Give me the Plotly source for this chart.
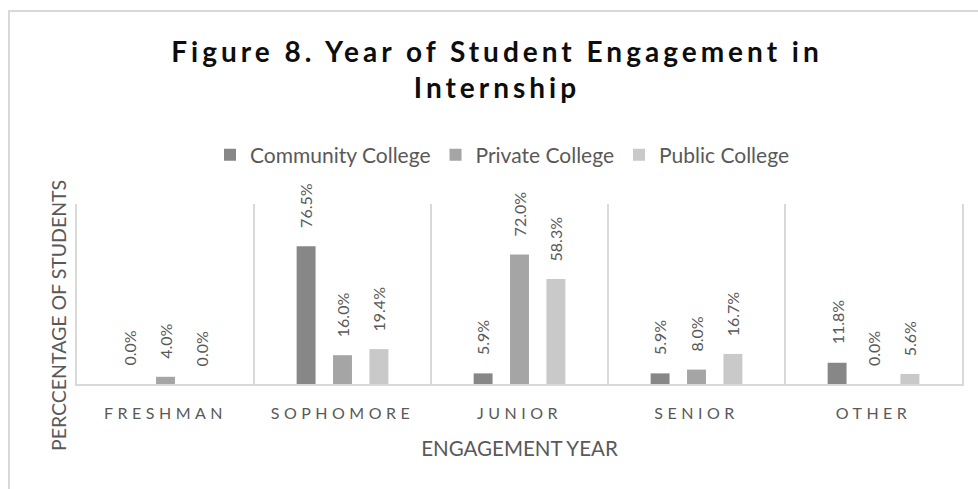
import plotly.graph_objects as go

# Year in which students took part in an internship, by college type (share of students)
categories = ["FRESHMAN", "SOPHOMORE", "JUNIOR", "SENIOR", "OTHER"]
series_names = ["Community College", "Private College", "Public College"]
community = [0.000, 0.765, 0.059, 0.059, 0.118]
private = [0.040, 0.160, 0.720, 0.080, 0.000]
public = [0.000, 0.194, 0.583, 0.167, 0.056]

series_values = [community, private, public]
series_colors = ["#878787", "#a5a5a5", "#c9c9c9"]

FONT = "Lato, 'Open Sans', sans-serif"
TEXT_GRAY = "#595959"
LINE_GRAY = "#d9d9d9"

# plot-area geometry (pixels)
L, R, T, B = 77, 16, 204, 105
W, H = 978, 489
PW, PH = W - L - R, H - T - B
BAR_STEP = 36.4  # pixel distance between bar centres within a group

fig = go.Figure()
for name, vals, col in zip(series_names, series_values, series_colors):
    fig.add_trace(go.Bar(
        name=name, x=categories, y=vals,
        marker=dict(color=col, line=dict(width=0)),
        hoverinfo="skip",
    ))

# rotated value labels above each bar
annotations = []
for i, vals in enumerate(series_values):
    for cat, v in zip(categories, vals):
        annotations.append(dict(
            x=cat, y=v, xref="x", yref="y",
            text=f"{v:.1%}", showarrow=False,
            textangle=-90, xanchor="center", yanchor="bottom",
            xshift=(i - 1) * BAR_STEP, yshift=16,
            font=dict(family=FONT, size=16, color=TEXT_GRAY),
        ))

# vertical axis title
annotations.append(dict(
    x=(58 - L) / PW, y=(H - B - 316) / PH, xref="paper", yref="paper",
    text="PERCCENTAGE OF STUDENTS", showarrow=False, textangle=-90,
    xanchor="center", yanchor="middle",
    font=dict(family=FONT, size=19.5, color=TEXT_GRAY),
))

fig.update_layout(
    width=W, height=H,
    margin=dict(l=L, r=R, t=T, b=B),
    paper_bgcolor="white", plot_bgcolor="white",
    barmode="group", bargap=0.383, bargroupgap=0.48,
    title=dict(
        text="<b>Figure 8. Year of Student Engagement in<br>Internship</b>",
        x=497 / W, xanchor="center",
        y=1 - 62 / H, yanchor="top",
        font=dict(family=FONT, size=28, color="#0d0d0d"),
    ),
    legend=dict(
        orientation="h", x=(502 - L) / PW, xanchor="center",
        y=(H - B - 155) / PH, yanchor="middle",
        font=dict(family=FONT, size=21, color=TEXT_GRAY),
        itemclick=False, itemdoubleclick=False, itemwidth=30,
        bgcolor="rgba(0,0,0,0)",
    ),
    xaxis=dict(
        type="category", tickson="boundaries",
        showgrid=True, gridcolor=LINE_GRAY, gridwidth=1.5,
        showline=True, linecolor=LINE_GRAY, linewidth=2,
        ticks="", ticklabelstandoff=14,
        tickfont=dict(family=FONT, size=16, color=TEXT_GRAY),
        title=dict(text="ENGAGEMENT YEAR", standoff=20,
                   font=dict(family=FONT, size=20.5, color=TEXT_GRAY)),
        fixedrange=True,
    ),
    yaxis=dict(
        range=[0, 1.0], showticklabels=False, showgrid=False,
        zeroline=False, showline=True, linecolor=LINE_GRAY, linewidth=1.5,
        mirror=True, ticks="", fixedrange=True,
    ),
    annotations=annotations,
    shapes=[dict(
        type="rect", xref="paper", yref="paper",
        x0=(9 - L) / PW, x1=(W + 20 - L) / PW,
        y0=(H - B - (H + 20)) / PH, y1=(H - B - 11) / PH,
        line=dict(color=LINE_GRAY, width=2), fillcolor="rgba(0,0,0,0)",
        layer="below",
    )],
    showlegend=True,
)

# letter spacing for the title and the category labels
post = """
var gd = document.getElementById('{plot_id}');
gd.querySelectorAll('.gtitle').forEach(function(t){ t.style.letterSpacing = '4px'; });
gd.querySelectorAll('.xtick text').forEach(function(t){ t.style.letterSpacing = '4.5px'; });
"""

fig.write_html("out.html", config={"displayModeBar": False}, post_script=post)
